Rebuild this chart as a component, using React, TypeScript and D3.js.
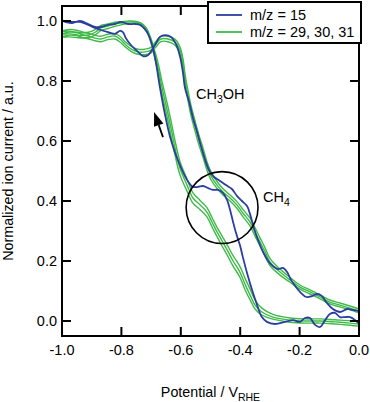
import React from "react";
import * as d3 from "d3";

// m/z = 15 (one scan loop: back along the lower branch, then forward along the upper branch)
const blueX = [
  0.0, -0.013, -0.03, -0.047, -0.064, -0.081, -0.098, -0.114, -0.131, -0.148, -0.165, -0.182, -0.199,
  -0.222, -0.249, -0.283, -0.31, -0.327, -0.343, -0.36, -0.377, -0.391, -0.401, -0.414, -0.424, -0.434,
  -0.444, -0.458, -0.475, -0.492, -0.508, -0.525, -0.542, -0.559, -0.572, -0.586, -0.603, -0.62, -0.636,
  -0.653, -0.67, -0.684, -0.694, -0.707, -0.721, -0.737, -0.754, -0.778, -0.801, -0.822, -0.845, -0.869,
  -0.889, -0.912, -0.939, -0.966, -1.0,
  -0.973, -0.939, -0.912, -0.889, -0.869, -0.845, -0.822, -0.805, -0.795, -0.785, -0.768, -0.744, -0.727,
  -0.71, -0.687, -0.67, -0.653, -0.633, -0.616, -0.603, -0.593, -0.586, -0.572, -0.559, -0.545, -0.532,
  -0.519, -0.505, -0.488, -0.468, -0.448, -0.428, -0.411, -0.394, -0.377, -0.367, -0.354, -0.34, -0.323,
  -0.306, -0.29, -0.273, -0.256, -0.242, -0.229, -0.212, -0.195, -0.178, -0.158, -0.141, -0.125, -0.108,
  -0.088, -0.064, -0.04, -0.02, 0.0,
];
const blueY = [
  -0.01, 0.003, 0.013, 0.013, 0.013, 0.027, 0.023, 0.003, -0.02, -0.013, 0.01, 0.01, -0.003,
  0.003, -0.003, -0.01, -0.003, 0.013, 0.053, 0.103, 0.16, 0.213, 0.253, 0.293, 0.33, 0.37,
  0.403, 0.427, 0.437, 0.437, 0.443, 0.45, 0.447, 0.447, 0.46, 0.483, 0.52, 0.563, 0.613,
  0.687, 0.777, 0.863, 0.91, 0.95, 0.973, 0.987, 0.99, 0.99, 0.997, 0.99, 0.987, 0.98,
  0.98, 0.99, 1.0, 0.993, 1.0,
  0.997, 0.997, 0.987, 0.977, 0.97, 0.963, 0.957, 0.967, 0.963, 0.943, 0.92, 0.897, 0.883,
  0.887, 0.92, 0.947, 0.953, 0.947, 0.923, 0.883, 0.83, 0.777, 0.73, 0.677, 0.63, 0.583,
  0.54, 0.503, 0.48, 0.467, 0.453, 0.44, 0.417, 0.4, 0.383, 0.357, 0.31, 0.27, 0.23,
  0.2, 0.183, 0.173, 0.177, 0.163, 0.137, 0.113, 0.093, 0.08, 0.083, 0.09, 0.083, 0.06,
  0.04, 0.03, 0.04, 0.037, 0.033,
];

// m/z = 29, 30, 31 share the potential grid
const greenX = [
  0.0, -0.03, -0.081, -0.131, -0.182, -0.232, -0.29, -0.327, -0.35, -0.367, -0.384, -0.401, -0.424,
  -0.444, -0.461, -0.478, -0.495, -0.512, -0.535, -0.559, -0.579, -0.603, -0.62, -0.633, -0.646, -0.663,
  -0.677, -0.687, -0.7, -0.717, -0.734, -0.768, -0.801, -0.822, -0.845, -0.869, -0.882, -0.899, -0.923,
  -0.946, -0.973, -1.0,
  -0.973, -0.946, -0.912, -0.889, -0.869, -0.845, -0.822, -0.805, -0.788, -0.768, -0.744, -0.721, -0.7,
  -0.684, -0.667, -0.643, -0.62, -0.603, -0.593, -0.586, -0.576, -0.566, -0.552, -0.539, -0.525, -0.512,
  -0.498, -0.478, -0.458, -0.434, -0.411, -0.391, -0.367, -0.35, -0.333, -0.316, -0.3, -0.266, -0.232,
  -0.199, -0.165, -0.131, -0.098, -0.064, -0.03, 0.0,
];
const green29 = [
  -0.01, -0.007, -0.003, 0.0, 0.0, 0.003, 0.013, 0.03, 0.053, 0.087, 0.123, 0.163, 0.2,
  0.237, 0.267, 0.297, 0.33, 0.363, 0.387, 0.41, 0.453, 0.51, 0.58, 0.643, 0.703, 0.777,
  0.847, 0.887, 0.933, 0.977, 0.993, 0.997, 0.993, 0.99, 0.983, 0.977, 0.967, 0.957, 0.953,
  0.96, 0.963, 0.957,
  0.957, 0.953, 0.95, 0.943, 0.94, 0.947, 0.95, 0.94, 0.923, 0.907, 0.897, 0.897, 0.903,
  0.923, 0.94, 0.94, 0.93, 0.903, 0.863, 0.81, 0.753, 0.703, 0.65, 0.603, 0.56, 0.517,
  0.483, 0.453, 0.43, 0.41, 0.387, 0.36, 0.33, 0.297, 0.263, 0.23, 0.197, 0.163, 0.137,
  0.113, 0.097, 0.08, 0.063, 0.053, 0.043, 0.033,
];
const green30 = [
  -0.002, 0.001, 0.004, 0.007, 0.007, 0.01, 0.022, 0.043, 0.07, 0.107, 0.143, 0.182, 0.218,
  0.254, 0.283, 0.312, 0.345, 0.378, 0.402, 0.427, 0.473, 0.533, 0.604, 0.667, 0.726, 0.797,
  0.862, 0.898, 0.94, 0.978, 0.99, 0.993, 0.987, 0.982, 0.975, 0.968, 0.958, 0.948, 0.944,
  0.95, 0.953, 0.947,
  0.947, 0.944, 0.941, 0.934, 0.931, 0.938, 0.94, 0.93, 0.914, 0.899, 0.889, 0.888, 0.894,
  0.913, 0.931, 0.931, 0.92, 0.892, 0.85, 0.795, 0.737, 0.686, 0.633, 0.587, 0.545, 0.503,
  0.47, 0.442, 0.42, 0.4, 0.376, 0.348, 0.317, 0.283, 0.249, 0.217, 0.185, 0.153, 0.129,
  0.106, 0.09, 0.074, 0.057, 0.047, 0.037, 0.027,
];
const green31 = [
  -0.017, -0.014, -0.01, -0.007, -0.007, -0.004, 0.006, 0.02, 0.04, 0.071, 0.105, 0.146, 0.183,
  0.22, 0.25, 0.281, 0.314, 0.347, 0.371, 0.393, 0.433, 0.488, 0.556, 0.618, 0.68, 0.755,
  0.83, 0.874, 0.925, 0.972, 0.993, 1.0, 0.998, 0.996, 0.99, 0.985, 0.976, 0.966, 0.962,
  0.968, 0.972, 0.966,
  0.966, 0.962, 0.959, 0.952, 0.949, 0.956, 0.958, 0.949, 0.932, 0.916, 0.906, 0.906, 0.912,
  0.932, 0.949, 0.949, 0.94, 0.914, 0.876, 0.825, 0.769, 0.72, 0.667, 0.62, 0.576, 0.531,
  0.497, 0.465, 0.441, 0.42, 0.398, 0.372, 0.343, 0.311, 0.277, 0.243, 0.209, 0.173, 0.145,
  0.12, 0.104, 0.087, 0.07, 0.06, 0.05, 0.04,
];

const xTicks = [-1.0, -0.8, -0.6, -0.4, -0.2, 0.0];
const yTicks = [0.0, 0.2, 0.4, 0.6, 0.8, 1.0];
const legendLabels = ["m/z = 15", "m/z = 29, 30, 31"];

const BLUE = "#2b3e9f";
const GREEN = "#3fba48";
const FONT = "'Liberation Sans', Arial, sans-serif";

export default function App() {
  const width = 370;
  const height = 402;
  const margin = { left: 62, top: 6, right: 11, bottom: 66 };

  const x = d3.scaleLinear().domain([-1, 0]).range([margin.left, width - margin.right]);
  const y = d3.scaleLinear().domain([-0.05, 1.05]).range([height - margin.bottom, margin.top]);

  const path = (xs: number[], ys: number[]) =>
    d3
      .line<[number, number]>()
      .x((d) => x(d[0]))
      .y((d) => y(d[1]))
      .curve(d3.curveCatmullRom.alpha(0.5))(xs.map((v, i) => [v, ys[i]]) as [number, number][]) || "";

  const [x0, x1] = x.range();
  const [y0, y1] = y.range(); // y0 bottom, y1 top
  const tickLen = 9;

  // arrow annotation (data units)
  const aFrom = [x(-0.66), y(0.613)];
  const aTo = [x(-0.69), y(0.697)];
  const dx = aTo[0] - aFrom[0];
  const dy = aTo[1] - aFrom[1];
  const len = Math.hypot(dx, dy);
  const ux = dx / len;
  const uy = dy / len;
  const headL = 14;
  const headW = 5;
  const bx = aTo[0] - ux * headL;
  const by = aTo[1] - uy * headL;
  const head = `${aTo[0]},${aTo[1]} ${bx - uy * headW},${by + ux * headW} ${bx + uy * headW},${by - ux * headW}`;

  const circleR = x(-0.461 + 0.121) - x(-0.461);

  return (
    <svg
      width={width}
      height={height}
      style={{ position: "absolute", left: 0, top: 0, background: "#fff" }}
      fontFamily={FONT}
    >
      <rect width={width} height={height} fill="#fff" />

      {/* data */}
      <g fill="none" strokeLinejoin="round">
        {[green29, green30, green31].map((g, i) => (
          <path key={i} d={path(greenX, g)} stroke={GREEN} strokeWidth={1.4} />
        ))}
        <path d={path(blueX, blueY)} stroke={BLUE} strokeWidth={1.8} />
      </g>

      {/* frame */}
      <rect x={x0} y={y1} width={x1 - x0} height={y0 - y1} fill="none" stroke="#000" strokeWidth={2} />

      {/* ticks, all pointing inward */}
      <g stroke="#000" strokeWidth={2}>
        {xTicks.map((t) => (
          <g key={t}>
            <line x1={x(t)} x2={x(t)} y1={y0} y2={y0 - tickLen} />
            <line x1={x(t)} x2={x(t)} y1={y1} y2={y1 + tickLen} />
          </g>
        ))}
        {yTicks.map((t) => (
          <g key={t}>
            <line x1={x0} x2={x0 + tickLen} y1={y(t)} y2={y(t)} />
            <line x1={x1} x2={x1 - tickLen} y1={y(t)} y2={y(t)} />
          </g>
        ))}
      </g>

      {/* tick labels */}
      <g fontSize={14.5} fill="#000">
        {xTicks.map((t) => (
          <text key={t} x={x(t)} y={y0 + 18.5} textAnchor="middle">
            {t.toFixed(1)}
          </text>
        ))}
        {yTicks.map((t) => (
          <text key={t} x={x0 - 5} y={y(t) + 5} textAnchor="end">
            {t.toFixed(1)}
          </text>
        ))}
      </g>

      {/* axis titles */}
      <text
        transform={`translate(13,${(y0 + y1) / 2}) rotate(-90)`}
        textAnchor="middle"
        fontSize={14.3}
      >
        Normalized ion current / a.u.
      </text>
      <text x={(x0 + x1) / 2} y={397} textAnchor="middle" fontSize={14.3}>
        Potential / V
        <tspan fontSize={10.5} dy={4}>
          RHE
        </tspan>
      </text>

      {/* annotations */}
      <text x={x(-0.549)} y={y(0.74)} fontSize={14.5}>
        CH
        <tspan fontSize={10.5} dy={4}>3</tspan>
        <tspan dy={-4}>OH</tspan>
      </text>
      <text x={x(-0.323)} y={y(0.397)} fontSize={14.5}>
        CH
        <tspan fontSize={10.5} dy={4}>4</tspan>
      </text>
      <circle cx={x(-0.461)} cy={y(0.378)} r={circleR} fill="none" stroke="#000" strokeWidth={1.6} />
      <line x1={aFrom[0]} y1={aFrom[1]} x2={bx} y2={by} stroke="#000" strokeWidth={1.8} />
      <polygon points={head} fill="#000" />

      {/* legend */}
      <g>
        <rect x={208} y={2} width={153} height={41} fill="#fff" stroke="#000" strokeWidth={2} />
        {legendLabels.map((label, i) => (
          <g key={label} transform={`translate(216,${15 + i * 17})`}>
            <line x1={0} x2={26} y1={0} y2={0} stroke={i === 0 ? BLUE : GREEN} strokeWidth={1.8} />
            <text x={34} y={5} fontSize={14.5}>
              {label}
            </text>
          </g>
        ))}
      </g>
    </svg>
  );
}
